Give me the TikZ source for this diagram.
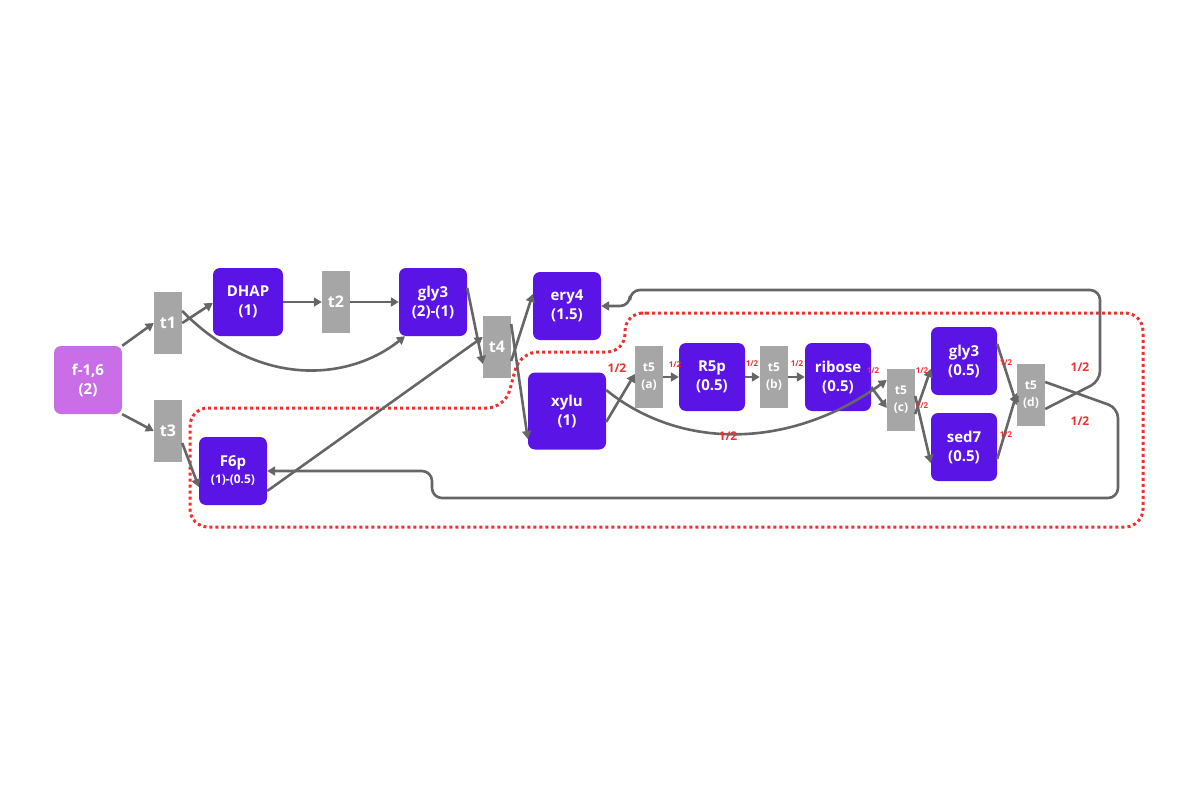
\documentclass[tikz,border=0pt]{standalone}
\usepackage{fontspec}
\setmainfont{Open Sans}
\usetikzlibrary{arrows.meta}
\definecolor{pur}{HTML}{5B14E6}
\definecolor{lil}{HTML}{C96EE6}
\definecolor{gr}{HTML}{A6A6A6}
\definecolor{ln}{HTML}{666666}
\definecolor{rd}{HTML}{F03030}
\begin{document}
\begin{tikzpicture}[x=1pt,y=-1pt,
 mol/.style={fill=pur,rounded corners=7pt,text=white,font=\bfseries\fontsize{15}{19}\selectfont,align=center,inner sep=0pt,minimum width=68pt,minimum height=68pt},
 tr/.style={fill=gr,text=white,font=\bfseries\fontsize{16}{18}\selectfont,align=center,inner sep=0pt,minimum width=28pt,minimum height=62pt},
 trs/.style={tr,font=\bfseries\fontsize{12}{17}\selectfont},
 ar/.style={draw=ln,line width=2.6pt,-{Triangle[length=8pt,width=9pt]}},
 ln/.style={draw=ln,line width=2.6pt},
 hl/.style={text=rd,font=\bfseries\fontsize{8}{9}\selectfont,inner sep=0pt},
 bl/.style={text=rd,font=\bfseries\fontsize{12}{13}\selectfont,inner sep=0pt}]
\useasboundingbox (0,0) rectangle (1200,800);
% red dotted region
\draw[rd,line width=3pt,dash pattern=on 3pt off 3pt,rounded corners=18pt]
 (640,313) -- (1143,313) -- (1143,527) -- (190,527) -- (190,408) -- (505,408) -- (520,352) -- (625,352) -- (625,313) -- (650,313);
% nodes
\node[mol,fill=lil] (f16) at (88,380) {f-1,6\\(2)};
\node[tr] (t1) at (168,323) {t1};
\node[tr] (t3) at (168,431) {t3};
\node[mol,minimum width=70pt] (dhap) at (248,302) {DHAP\\(1)};
\node[tr] (t2) at (336,302) {t2};
\node[mol] (gly3) at (433,302) {gly3\\(2)-(1)};
\node[tr] (t4) at (497,347) {t4};
\node[mol] (ery4) at (567,306) {ery4\\(1.5)};
\node[mol,minimum width=78pt,minimum height=77pt] (xylu) at (567,411) {xylu\\(1)};
\node[mol,font=\bfseries\fontsize{15}{17}\selectfont] (f6p) at (233,471) {F6p\\{\fontsize{12}{15}\selectfont (1)-(0.5)}};
\node[trs] (t5a) at (649,377) {t5\\(a)};
\node[mol,minimum width=66pt] (r5p) at (712,377) {R5p\\(0.5)};
\node[trs] (t5b) at (774,377) {t5\\(b)};
\node[mol,minimum width=66pt] (rib) at (838,377) {ribose\\(0.5)};
\node[trs] (t5c) at (901,400) {t5\\(c)};
\node[mol,minimum width=66pt] (g3b) at (964,361) {gly3\\(0.5)};
\node[mol,minimum width=66pt] (sed) at (964,447) {sed7\\(0.5)};
\node[trs] (t5d) at (1031,395) {t5\\(d)};
% connectors
\draw[ar] (f16.north east) -- (t1.west);
\draw[ar] (f16.south east) -- (t3.west);
\draw[ar] (t1.east) -- (dhap.west|-{(0,303)});
\draw[ar] (dhap) -- (t2);
\draw[ar] (t2) -- (gly3);
\draw[ar] ([yshift=12pt]t1.east) .. controls (260,390) and (350,380) .. ([xshift=-28pt]gly3.south);
\draw[ar] ([yshift=-12pt]t3.east) -- ([yshift=-16pt]f6p.west);
\draw[ar] ([yshift=-20pt]f6p.east) -- ([yshift=10pt]t4.west);
\draw[ar] ([yshift=14pt]gly3.east) -- ([yshift=-17pt]t4.west);
\draw[ar] ([yshift=-14pt]t4.east) -- ([yshift=12pt]ery4.west);
\draw[ar] ([yshift=23pt]t4.east) -- ([yshift=-28pt]xylu.west);
\draw[ar] ([yshift=-11pt]xylu.east) -- ([yshift=3pt]t5a.west);
\draw[ar] (t5a) -- (r5p);
\draw[ar] (r5p) -- (t5b);
\draw[ar] (t5b) -- (rib);
\draw[ar] ([yshift=-10pt]rib.east) -- ([yshift=-8pt]t5c.west);
\draw[ar] ([yshift=-14pt]t5c.east) -- ([yshift=-8pt]g3b.west);
\draw[ar] ([yshift=4pt]t5c.east) -- ([yshift=-16pt]sed.west);
\draw[ar] ([yshift=21pt]xylu.east) .. controls (680,450) and (790,450) .. ([yshift=20pt]t5c.west);
\draw[ar] ([yshift=17pt]g3b.east) -- ([yshift=-10pt]t5d.west);
\draw[ar] ([yshift=-12pt]sed.east) -- ([yshift=2pt]t5d.west);
\coordinate (c1) at (1100,290);
\draw[ar,rounded corners=10pt] ([yshift=-14pt]t5d.east) -- (1100,381) -- (1100,290) -- (630,290) -- (630,306) -- (ery4.east);
\draw[ar,rounded corners=10pt] ([yshift=13pt]t5d.east) -- (1118,408) -- (1118,498) -- (432,498) -- (432,471) -- (f6p.east);
% labels
\node[bl] at (617,368) {1/2};
\node[hl] at (675,365) {1/2};
\node[hl] at (752,364) {1/2};
\node[hl] at (797,364) {1/2};
\node[hl] at (873,371) {1/2};
\node[hl] at (922,371) {1/2};
\node[hl] at (922,406) {1/2};
\node[hl] at (1006,363) {1/2};
\node[hl] at (1006,435) {1/2};
\node[bl] at (1080,367) {1/2};
\node[bl] at (1080,421) {1/2};
\node[bl] at (728,436) {1/2};
\end{tikzpicture}
\end{document}
